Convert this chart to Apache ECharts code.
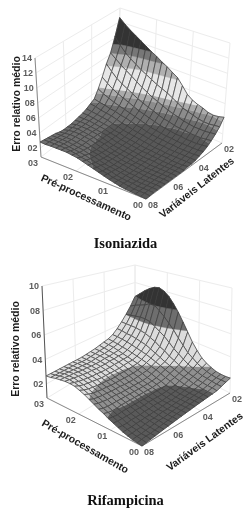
<!DOCTYPE html>
<html><head><meta charset="utf-8">
<style>html,body{margin:0;padding:0;background:#fff}#c{width:251px;height:511px;filter:blur(0.45px)}</style>
<script src="https://cdn.jsdelivr.net/npm/echarts@6/dist/echarts.min.js"></script>
</head><body><div id="c"></div>
<script>
// rows: LV 8 -> 2, columns: pre-processing 0 -> 0.3
const isoniazidaSurface = [
[.08,.085,.09,.095,.10,.11,.125,.14,.16,.18,.20,.22,.24,.26,.27,.28,.28,.28,.28,.275,.28],
[.085,.09,.09,.09,.10,.11,.12,.13,.15,.16,.18,.20,.22,.23,.25,.26,.27,.27,.27,.27,.27],
[.09,.09,.09,.09,.10,.10,.11,.12,.14,.15,.17,.18,.20,.22,.23,.24,.25,.26,.26,.26,.26],
[.09,.09,.09,.09,.09,.10,.11,.12,.13,.14,.15,.17,.19,.20,.22,.23,.24,.25,.25,.25,.25],
[.09,.09,.09,.09,.09,.10,.10,.11,.12,.13,.15,.16,.18,.19,.21,.22,.23,.24,.24,.24,.24],
[.09,.09,.09,.09,.09,.10,.10,.11,.12,.13,.14,.15,.17,.18,.20,.22,.23,.24,.24,.23,.22],
[.09,.09,.09,.09,.09,.09,.10,.11,.11,.12,.14,.15,.16,.18,.20,.22,.23,.24,.24,.23,.21],
[.09,.09,.09,.09,.09,.09,.10,.10,.11,.12,.13,.14,.16,.18,.19,.21,.22,.23,.24,.23,.21],
[.09,.09,.09,.09,.09,.09,.10,.10,.11,.12,.13,.14,.15,.17,.19,.21,.22,.23,.23,.23,.21],
[.09,.09,.09,.09,.09,.10,.10,.10,.11,.12,.13,.14,.15,.17,.19,.20,.21,.22,.23,.23,.22],
[.09,.09,.09,.09,.09,.10,.10,.11,.11,.12,.13,.14,.15,.17,.18,.20,.21,.22,.23,.23,.23],
[.10,.09,.09,.09,.10,.10,.10,.11,.11,.12,.13,.14,.15,.17,.18,.20,.21,.22,.23,.24,.24],
[.10,.10,.10,.10,.10,.10,.11,.11,.12,.13,.14,.15,.16,.17,.19,.20,.22,.23,.24,.25,.26],
[.11,.11,.11,.11,.11,.11,.12,.12,.13,.14,.15,.16,.17,.19,.20,.22,.24,.25,.26,.28,.29],
[.13,.12,.12,.12,.12,.13,.13,.14,.14,.15,.16,.18,.19,.21,.23,.24,.26,.27,.29,.30,.32],
[.15,.14,.14,.14,.14,.14,.15,.15,.16,.17,.18,.20,.22,.24,.26,.28,.30,.32,.35,.38,.42],
[.18,.17,.16,.16,.16,.17,.17,.18,.19,.20,.22,.24,.26,.28,.31,.34,.37,.40,.44,.49,.55],
[.22,.21,.20,.20,.20,.21,.21,.22,.24,.25,.27,.30,.32,.35,.38,.42,.46,.50,.55,.62,.70],
[.27,.26,.25,.25,.25,.26,.27,.29,.31,.33,.36,.39,.42,.46,.50,.55,.60,.65,.70,.76,.82],
[.33,.32,.31,.31,.32,.34,.36,.38,.42,.46,.50,.53,.56,.60,.64,.68,.73,.78,.84,.92,1.02],
[.42,.40,.39,.40,.43,.45,.48,.53,.62,.705,.75,.80,.84,.89,.93,.98,1.03,1.08,1.13,1.19,1.26]
];
const rifampicinaSurface = [
[.085,.09,.095,.105,.115,.13,.145,.16,.18,.195,.215,.235,.255,.27,.285,.29,.29,.285,.28,.27,.265],
[.09,.095,.10,.105,.115,.125,.14,.155,.17,.185,.205,.22,.24,.255,.27,.28,.285,.285,.28,.27,.265],
[.095,.10,.10,.11,.115,.125,.14,.15,.165,.18,.20,.215,.23,.245,.26,.27,.28,.28,.28,.27,.265],
[.10,.10,.105,.11,.12,.13,.14,.155,.165,.18,.195,.21,.225,.24,.255,.265,.275,.28,.275,.27,.265],
[.105,.105,.11,.115,.12,.13,.14,.155,.17,.18,.195,.21,.22,.235,.25,.26,.27,.275,.275,.27,.265],
[.11,.11,.115,.12,.125,.13,.145,.155,.17,.18,.195,.205,.22,.23,.245,.255,.265,.27,.27,.27,.265],
[.115,.115,.12,.12,.125,.135,.145,.155,.17,.18,.19,.205,.215,.23,.24,.255,.265,.27,.27,.27,.265],
[.12,.12,.12,.125,.13,.135,.145,.155,.17,.18,.19,.205,.215,.225,.24,.25,.26,.265,.265,.265,.265],
[.125,.125,.125,.13,.13,.14,.15,.155,.17,.18,.19,.20,.215,.225,.24,.25,.26,.265,.265,.265,.265],
[.13,.13,.13,.13,.135,.14,.15,.155,.17,.18,.19,.20,.215,.23,.24,.25,.26,.265,.27,.27,.27],
[.135,.135,.135,.135,.14,.14,.15,.16,.17,.18,.19,.20,.215,.23,.24,.255,.265,.27,.275,.275,.275],
[.14,.14,.14,.14,.14,.145,.15,.16,.17,.18,.19,.205,.215,.23,.245,.255,.265,.27,.275,.28,.28],
[.145,.145,.145,.145,.145,.15,.155,.16,.175,.185,.195,.21,.22,.235,.25,.26,.27,.275,.28,.285,.29],
[.15,.15,.15,.15,.15,.155,.16,.165,.18,.19,.205,.215,.23,.24,.25,.26,.27,.28,.29,.295,.30],
[.155,.155,.155,.155,.16,.16,.165,.18,.19,.205,.22,.23,.245,.255,.265,.275,.285,.29,.30,.305,.31],
[.16,.16,.16,.16,.165,.17,.18,.19,.205,.22,.235,.25,.265,.28,.29,.30,.31,.32,.325,.33,.33],
[.165,.165,.165,.17,.175,.185,.195,.205,.22,.235,.25,.27,.29,.31,.33,.34,.35,.36,.36,.37,.37],
[.17,.175,.175,.18,.185,.195,.205,.22,.24,.26,.28,.31,.33,.36,.38,.40,.41,.42,.42,.42,.42],
[.185,.185,.19,.195,.20,.21,.225,.245,.27,.30,.33,.37,.41,.44,.47,.50,.51,.51,.50,.49,.48],
[.20,.20,.20,.205,.215,.23,.25,.28,.31,.36,.41,.47,.52,.57,.61,.65,.65,.62,.60,.58,.55],
[.215,.21,.21,.215,.23,.25,.28,.33,.39,.47,.55,.63,.70,.76,.80,.82,.81,.78,.74,.69,.64]
];
const zTicksIso = [.2,.4,.6,.8,1.0,1.2,1.4];
const zLabelsIso = ['02','04','06','08','10','12','14'];
const zTicksRif = [.2,.4,.6,.8,1.0];
const zLabelsRif = ['02','04','06','08','10'];
const preLabels = ['00','01','02','03'];
const lvLabels = ['08','06','04','02'];

// Band limits and greys of each surface
const bandsIso = [[0,.2,'#585858'],[.2,.3,'#6e6e6e'],[.3,.38,'#8c8c8c'],[.38,.44,'#ababab'],[.44,.68,'#e6e6e6'],[.68,.82,'#b0b0b0'],[.82,.93,'#777777'],[.93,2,'#333333']];
const bandsRif = [[0,.165,'#5a5a5a'],[.165,.235,'#909090'],[.235,.48,'#dcdcdc'],[.48,.65,'#6e6e6e'],[.65,2,'#333333']];

// Box corners on the page (scale of each 3D frame)
const frameIso = {zMin:.08,zMax:1.4,F0:[146,199],L0:[41,157],R0:[222,143],B0:[117,98],F1:[145,93],L1:[35,58],R1:[230,43],B1:[120,8]};
const frameRif = {zMin:.085,zMax:1.0,F0:[142,446],L0:[47,398],R0:[230,393],B0:[135,345],F1:[139,309],L1:[42,286],R1:[232,288],B1:[135,265]};

function project(fr,p,q,z){
  const t=(z-fr.zMin)/(fr.zMax-fr.zMin);
  const out=[0,0];
  for(let k=0;k<2;k++){
    const b=(1-p)*(1-q)*fr.F0[k]+p*(1-q)*fr.L0[k]+(1-p)*q*fr.R0[k]+p*q*fr.B0[k];
    const u=(1-p)*(1-q)*fr.F1[k]+p*(1-q)*fr.L1[k]+(1-p)*q*fr.R1[k]+p*q*fr.B1[k];
    out[k]=b+(u-b)*t;
  }
  return out;
}
function clip(poly,val,keepAbove){
  const res=[];
  for(let i=0;i<poly.length;i++){
    const a=poly[i],b=poly[(i+1)%poly.length];
    const ina=keepAbove?a[2]>=val:a[2]<=val, inb=keepAbove?b[2]>=val:b[2]<=val;
    if(ina)res.push(a);
    if(ina!==inb){const t=(val-a[2])/(b[2]-a[2]);res.push([a[0]+(b[0]-a[0])*t,a[1]+(b[1]-a[1])*t,val]);}
  }
  return res;
}
function surfaceSeries(name,surface,fr,bands){
  const n=surface.length-1, cells=[];
  for(let i=0;i<n;i++)for(let j=0;j<n;j++)cells.push([i,j]);
  cells.sort((a,b)=>(b[0]+b[1])-(a[0]+a[1]));
  return {type:'custom',name,coordinateSystem:'cartesian2d',silent:true,animation:false,progressive:0,clip:false,z:5,
    data:cells,
    renderItem(params,api){
      const i=api.value(0),j=api.value(1);
      const P=k=>k/n;
      const quad=[[P(i),P(j),surface[j][i]],[P(i+1),P(j),surface[j][i+1]],[P(i+1),P(j+1),surface[j+1][i+1]],[P(i),P(j+1),surface[j+1][i]]];
      const toPx=v=>api.coord(project(fr,v[0],v[1],v[2]));
      const children=[];
      for(const b of bands){
        let poly=clip(quad,b[0],true);
        if(poly.length>2)poly=clip(poly,b[1],false);
        if(poly.length>2)children.push({type:'polygon',shape:{points:poly.map(toPx)},style:{fill:b[2],stroke:b[2],lineWidth:.4}});
      }
      children.push({type:'polygon',shape:{points:quad.map(toPx)},style:{fill:'none',stroke:'#3e3e3e',lineWidth:.75}});
      return {type:'group',children};
    }};
}
function frameSeries(name,fr,zTicks,zLabels,names){
  return {type:'custom',name,coordinateSystem:'cartesian2d',silent:true,animation:false,clip:false,z:2,
    data:[[0,0]],
    renderItem(params,api){
      const ch=[];
      const pt=(p,q,z)=>api.coord(project(fr,p,q,z));
      const line=(a,b,c,w)=>ch.push({type:'line',shape:{x1:a[0],y1:a[1],x2:b[0],y2:b[1]},style:{stroke:c,lineWidth:w}});
      const wall='#ececec';
      for(const z of zTicks){
        line(pt(1,0,z),pt(1,1,z),wall,1);
        line(pt(1,1,z),pt(0,1,z),wall,1);
      }
      for(let k=0;k<lvLabels.length;k++){
        const q=k/(lvLabels.length-1);
        line(pt(1,q,fr.zMin),pt(1,q,fr.zMax),wall,1);
        line(pt(0,q,fr.zMin),pt(1,q,fr.zMin),wall,1);
      }
      for(let k=0;k<preLabels.length;k++){
        const p=k/(preLabels.length-1);
        line(pt(p,1,fr.zMin),pt(p,1,fr.zMax),wall,1);
        line(pt(p,0,fr.zMin),pt(p,1,fr.zMin),wall,1);
      }
      line(pt(1,0,fr.zMin),pt(1,0,fr.zMax),names.axis,1);
      line(pt(1,0,fr.zMin),pt(0,0,fr.zMin),'#8a8a8a',1);
      line(pt(0,0,fr.zMin),pt(0,1,fr.zMin),'#8a8a8a',1);
      const tick={fill:'#5c5c5c',font:'bold 9px "Liberation Sans"',align:'center',verticalAlign:'middle'};
      const txt=(s,x,y,style,rot)=>{const c=api.coord([x,y]);ch.push({type:'text',x:c[0],y:c[1],rotation:rot||0,style:Object.assign({text:s,x:0,y:0},style)});};
      zTicks.forEach((z,k)=>{const a=project(fr,1,0,z);txt(zLabels[k],a[0]-8,a[1]+1,tick);});
      preLabels.forEach((s,k)=>{const a=project(fr,k/(preLabels.length-1),0,fr.zMin);txt(s,a[0]-8,a[1]+7,tick);});
      lvLabels.forEach((s,k)=>{const a=project(fr,0,k/(lvLabels.length-1),fr.zMin);txt(s,a[0]+7,a[1]+7,tick);});
      const nm={fill:'#1c1c1c',font:'bold 10.5px "Liberation Sans"',align:'center',verticalAlign:'middle'};
      txt('Erro relativo médio',names.z[0],names.z[1],nm,Math.PI/2);
      txt('Pré-processamento',names.pre[0],names.pre[1],nm,-names.pre[2]*Math.PI/180);
      txt('Variáveis Latentes',names.lv[0],names.lv[1],nm,names.lv[2]*Math.PI/180);
      return {type:'group',children:ch};
    }};
}
const chart=echarts.init(document.getElementById('c'),null,{renderer:'canvas'});
chart.setOption({
  animation:false,backgroundColor:'#fff',
  grid:{left:0,right:0,top:0,bottom:0},
  xAxis:{type:'value',min:0,max:251,show:false},
  yAxis:{type:'value',min:0,max:511,inverse:true,show:false},
  title:[
    {text:'Isoniazida',left:'center',top:232,textStyle:{fontFamily:'Liberation Serif',fontWeight:'bold',fontSize:14.5,color:'#111'}},
    {text:'Rifampicina',left:'center',top:489,textStyle:{fontFamily:'Liberation Serif',fontWeight:'bold',fontSize:14.5,color:'#111'}}
  ],
  series:[
    frameSeries('frameIso',frameIso,zTicksIso,zLabelsIso,{axis:'#8a8a8a',z:[17,104],pre:[86,198,24.4],lv:[197,188,38]}),
    frameSeries('frameRif',frameRif,zTicksRif,zLabelsRif,{axis:'#555555',z:[16,349],pre:[85,447,29.6],lv:[205,442,36]}),
    surfaceSeries('Isoniazida',isoniazidaSurface,frameIso,bandsIso),
    surfaceSeries('Rifampicina',rifampicinaSurface,frameRif,bandsRif)
  ]
});
</script></body></html>
